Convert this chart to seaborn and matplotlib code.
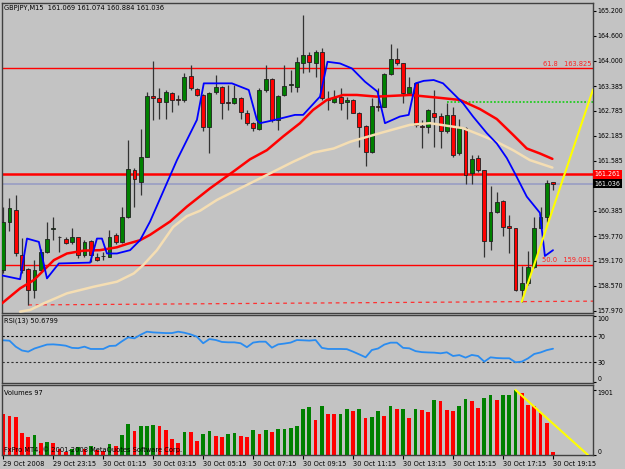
import numpy as np
import pandas as pd
import matplotlib
matplotlib.use('Agg')
import matplotlib.pyplot as plt
from matplotlib import font_manager
import seaborn as sns

# GBPJPY M15, 29 Oct 21:15 .. 30 Oct 19:15 (89 bars)
bars = list(range(89))
opens = [158.95, 160.12, 160.40, 159.31, 158.97, 158.47, 158.95, 159.39, 159.94, 159.74,
         159.70, 159.62, 159.74, 159.31, 159.65, 159.27, 159.29, 159.27, 159.80, 159.63,
         160.24, 161.35, 161.08, 161.68, 163.14, 163.10, 163.01, 163.21, 163.07, 163.05,
         163.63, 163.31, 163.17, 162.41, 163.23, 163.37, 162.99, 162.97, 163.09, 162.74,
         162.49, 162.34, 163.29, 163.55, 162.57, 163.17, 163.42, 163.37, 163.95, 164.13,
         163.95, 164.21, 163.07, 163.01, 163.13, 163.01, 163.05, 162.74, 162.42, 161.80,
         162.90, 162.89, 163.68, 164.03, 163.93, 163.21, 163.45, 162.43, 162.41, 162.74,
         162.66, 162.31, 162.69, 161.76, 162.37, 161.28, 161.64, 161.36, 159.64, 160.34,
         160.61, 160.01, 159.96, 158.47, 158.63, 159.03, 159.96, 160.24, 161.069]
highs = [160.48, 160.68, 160.76, 159.73, 158.99, 159.19, 159.47, 160.12, 160.24, 159.77,
         159.75, 159.96, 159.75, 159.67, 159.67, 159.35, 159.39, 159.92, 159.84, 160.48,
         162.08, 161.40, 162.34, 163.25, 164.00, 163.33, 163.29, 163.25, 163.17, 163.69,
         163.89, 163.33, 163.19, 163.25, 163.65, 163.39, 163.41, 163.41, 163.13, 162.81,
         162.53, 163.33, 163.89, 163.57, 163.17, 163.89, 163.77, 164.09, 165.10, 164.21,
         164.25, 164.29, 163.27, 163.29, 163.33, 163.13, 163.07, 162.77, 162.45, 163.09,
         163.33, 163.69, 164.41, 164.29, 163.95, 163.61, 163.49, 162.57, 162.82, 163.29,
         162.74, 162.97, 162.89, 162.58, 162.39, 161.72, 161.72, 161.36, 160.98, 160.84,
         160.64, 160.28, 159.97, 159.05, 159.41, 160.24, 160.48, 161.12, 161.074]
lows = [158.87, 159.88, 159.29, 158.87, 158.11, 158.27, 158.91, 159.35, 159.68, 159.39,
        159.58, 159.59, 159.23, 159.27, 159.15, 159.18, 159.19, 159.26, 159.59, 159.61,
        160.20, 160.48, 160.76, 161.67, 162.57, 162.58, 162.58, 162.77, 162.93, 163.01,
        163.29, 163.14, 162.29, 161.78, 163.19, 162.58, 162.81, 162.95, 162.58, 162.45,
        162.30, 162.33, 163.25, 162.53, 162.33, 163.14, 163.25, 163.25, 163.69, 163.73,
        163.61, 163.05, 162.81, 162.97, 162.81, 162.58, 162.73, 161.92, 161.46, 161.78,
        162.79, 162.87, 163.65, 163.89, 162.97, 163.17, 162.41, 161.88, 162.25, 161.92,
        161.88, 162.25, 161.68, 161.72, 161.02, 161.02, 161.32, 159.27, 159.43, 160.32,
        159.76, 159.35, 158.45, 158.19, 158.59, 158.99, 159.93, 160.12, 160.884]
closes = [160.12, 160.44, 159.35, 158.95, 158.47, 158.95, 159.39, 159.71, 159.97, 159.755,
          159.61, 159.74, 159.31, 159.62, 159.31, 159.19, 159.30, 159.75, 159.63, 160.24,
          161.39, 161.14, 161.67, 163.15, 163.09, 163.01, 163.23, 163.06, 163.06, 163.61,
          163.33, 163.17, 162.41, 163.21, 163.37, 162.97, 162.98, 163.09, 162.77, 162.49,
          162.37, 163.29, 163.55, 162.57, 163.14, 163.39, 163.44, 163.97, 164.13, 163.97,
          164.21, 163.09, 163.05, 163.10, 162.97, 163.06, 162.74, 162.41, 161.80, 162.90,
          162.89, 163.68, 164.03, 163.93, 163.21, 163.37, 162.45, 162.41, 162.81, 162.65,
          162.31, 162.69, 161.72, 162.37, 161.24, 161.62, 161.35, 159.64, 160.34, 160.60,
          159.98, 159.96, 158.47, 158.63, 159.03, 159.96, 160.24, 161.04, 161.036]
volumes = [1193, 1133, 1114, 641, 522, 591, 355, 394, 345, 177,
           79, 177, 227, 177, 256, 148, 108, 325, 256, 572,
           897, 700, 838, 857, 887, 838, 719, 473, 355, 670,
           660, 424, 601, 700, 542, 522, 601, 650, 542, 535,
           719, 611, 719, 670, 749, 769, 775, 838, 1331, 1390,
           1035, 1429, 1193, 1190, 1212, 1350, 1281, 1331, 1084, 1114,
           1281, 1143, 1439, 1350, 1355, 1094, 1331, 1311, 1252, 1607,
           1577, 1311, 1281, 1429, 1636, 1577, 1380, 1676, 1745, 1607,
           1754, 1764, 1901, 1823, 1469, 1429, 1242, 936, 97]
rsi = [63.5, 62.9, 53.8, 48.0, 46.2, 51.0, 54.0, 57.0, 57.3, 56.5,
       55.3, 52.0, 51.5, 53.8, 50.3, 50.3, 50.3, 54.8, 55.3, 62.0,
       68.0, 66.5, 72.0, 76.6, 75.5, 75.0, 74.5, 74.5, 76.6, 75.0,
       72.5, 69.0, 59.0, 65.4, 64.0, 61.0, 60.4, 60.4, 59.0, 53.0,
       60.0, 61.4, 61.4, 52.3, 57.3, 58.5, 60.0, 63.9, 63.5, 63.0,
       63.9, 52.0, 50.3, 50.3, 50.3, 50.0, 46.2, 42.0, 37.6, 48.7,
       51.0, 57.0, 59.9, 59.9, 52.0, 51.3, 47.0, 45.5, 45.0, 44.7,
       43.7, 45.2, 39.6, 41.0, 37.1, 41.2, 39.6, 31.0, 37.6, 36.5,
       36.1, 36.1, 30.0, 31.0, 36.0, 42.7, 45.0, 48.5, 50.68]

# moving averages (bar position, price)
blue_x = [-0.5, 2.7, 3.8, 5.7, 7.0, 8.9, 13.9, 15.0, 15.8, 16.6, 18.2, 20.3, 21.9, 23.5,
          27.8, 31.0, 32.1, 36.6, 39.3, 40.6, 41.1, 43.5, 46.7, 48.0, 50.7, 51.9, 53.9,
          55.8, 57.9, 59.9, 61.1, 63.5, 64.9, 66.0, 67.3, 68.9, 70.4, 72.0, 73.6, 75.2,
          77.4, 79.0, 80.6, 81.9, 83.8, 85.9, 86.7, 88.0]
blue_y = [158.83, 158.73, 159.71, 159.63, 158.75, 159.11, 159.13, 159.71, 159.71, 159.35,
          159.35, 159.43, 159.67, 160.12, 161.60, 162.57, 163.45, 163.45, 163.29, 162.57,
          162.49, 162.57, 162.69, 162.69, 163.13, 163.97, 163.93, 163.81, 163.49, 163.25,
          162.49, 162.65, 162.69, 163.45, 163.51, 163.53, 163.45, 163.21, 162.97, 162.65,
          162.25, 162.00, 161.65, 161.28, 160.72, 160.33, 159.29, 159.43]
red_x = [-0.2, 2.7, 4.9, 6.5, 8.1, 10.2, 12.9, 15.5, 18.2, 19.8, 21.9, 23.5, 26.7, 29.4,
         33.1, 36.8, 39.5, 42.2, 44.8, 47.5, 49.6, 51.8, 54.4, 56.6, 59.8, 65.1, 69.9,
         73.1, 76.3, 79.0, 81.6, 83.8, 85.9, 87.9]
red_y = [158.15, 158.51, 158.71, 158.95, 159.19, 159.35, 159.42, 159.43, 159.50, 159.58,
         159.67, 159.80, 160.12, 160.48, 160.92, 161.32, 161.62, 161.84, 162.17, 162.49,
         162.81, 163.05, 163.17, 163.17, 163.13, 163.17, 163.10, 163.05, 162.83, 162.59,
         162.21, 161.88, 161.76, 161.63]
wheat_x = [2.7, 4.3, 6.5, 10.2, 14.5, 18.2, 20.9, 22.4, 24.6, 27.2, 29.4, 31.5, 34.2,
           39.5, 42.7, 46.4, 49.6, 52.9, 55.5, 60.3, 65.1, 68.3, 73.6, 76.3, 79.0, 81.6,
           84.3, 87.9]
wheat_y = [157.95, 157.99, 158.15, 158.39, 158.55, 158.67, 158.87, 159.07, 159.43, 159.99,
           160.25, 160.38, 160.64, 161.04, 161.28, 161.56, 161.78, 161.88, 162.04, 162.25,
           162.45, 162.49, 162.37, 162.21, 162.04, 161.84, 161.60, 161.42]

price_ticks = [165.200, 164.600, 164.000, 163.385, 162.785, 162.185, 161.585,
               160.385, 159.770, 159.170, 158.570, 157.970]
time_labels = ['29 Oct 2008', '29 Oct 23:15', '30 Oct 01:15', '30 Oct 03:15',
               '30 Oct 05:15', '30 Oct 07:15', '30 Oct 09:15', '30 Oct 11:15',
               '30 Oct 13:15', '30 Oct 15:15', '30 Oct 17:15', '30 Oct 19:15']
fib_618 = 163.825
fib_500 = 159.081
hline_price = 161.261
bid_price = 161.036
green_level = 162.99
green_start = 71
trend_x = [83, 94.4]
trend_y = [158.19, 163.30]
vtrend_x = [82, 93.6]
vtrend_y = [1901, 0]

bg = '#c3c3c3'
frame = '#404040'

sns.set_theme(style='ticks', rc={'axes.facecolor': bg, 'figure.facecolor': bg,
                                 'axes.edgecolor': frame, 'axes.linewidth': 1.0})

# MT4 uses a narrow bitmap font; take a condensed face if one is installed
narrow = None
for f in font_manager.fontManager.ttflist:
    is_narrow = ('Narrow' in f.name or 'Condensed' in f.name
                 or f.stretch in ('condensed', 'semi-condensed'))
    if is_narrow and f.style == 'normal' and f.weight in (400, 'normal', 'regular'):
        if narrow is None or 'Liberation' in f.name:
            narrow = f
if narrow is not None:
    plt.rcParams['font.family'] = [narrow.name, 'DejaVu Sans']
    plt.rcParams['font.stretch'] = narrow.stretch
    fs = 5.3
else:
    plt.rcParams['font.family'] = ['Liberation Sans', 'DejaVu Sans']
    fs = 4.5
fs_axis = fs * 0.95


def px_box(l, t, r, b):
    W, H = 625, 469
    return [l / W, 1 - b / H, (r - l) / W, (b - t) / H]


df = pd.DataFrame({'bar': bars, 'open': opens, 'high': highs, 'low': lows,
                   'close': closes, 'volume': volumes, 'rsi': rsi})
df['up'] = df['close'] >= df['open']
df['vdir'] = np.where(df['volume'].diff() > 0, 'up', 'down')

fig = plt.figure(figsize=(6.25, 4.69), dpi=100)
ax = fig.add_axes(px_box(2, 3, 593, 313))
ax_rsi = fig.add_axes(px_box(2, 315, 593, 383))
ax_vol = fig.add_axes(px_box(2, 385, 593, 455))
xlim = (-0.2, 94.4)

# --- price panel
ax.axhline(fib_618, color='red', lw=1, zorder=2)
ax.axhline(hline_price, color='red', lw=1.8, zorder=2)
ax.axhline(bid_price, color='#9ea3c4', lw=1.4, zorder=2)
ax.axhline(fib_500, color='red', lw=1, zorder=2)
# dashed support from bar 4 low through bar 83 low
slope = (df['low'][83] - df['low'][4]) / (83 - 4)
ax.plot([4, xlim[1]], [df['low'][4], df['low'][4] + slope * (xlim[1] - 4)],
        color='#ff3030', lw=0.9, ls=(0, (3, 3)), zorder=2)
ax.plot([green_start, xlim[1]], [green_level, green_level], color='#22cc22',
        lw=1.3, ls=(0, (1, 1)), zorder=2)

body_bottom = df[['open', 'close']].min(axis=1)
body_h = (df['close'] - df['open']).abs().clip(lower=0.006)
ax.vlines(df['bar'], df['low'], df['high'], color='#333333', lw=0.9, zorder=3)
ax.bar(df['bar'], body_h, bottom=body_bottom, width=0.62,
       color=np.where(df['up'], '#008000', '#ff0000'), edgecolor='#202020', lw=0.6, zorder=4)

sns.lineplot(x=wheat_x, y=wheat_y, color='#f5deb3', lw=1.8, ax=ax, zorder=5)
sns.lineplot(x=red_x, y=red_y, color='#ff0000', lw=1.8, ax=ax, zorder=5)
sns.lineplot(x=blue_x, y=blue_y, color='#0000ff', lw=1.3, ax=ax, zorder=6)
ax.plot(trend_x, trend_y, color='#ffff00', lw=1.5, zorder=7)

ax.set_xlim(*xlim)
ax.set_ylim(157.916, 165.386)
ax.set_yticks(price_ticks)
ax.set_yticklabels([f'{p:.3f}' for p in price_ticks])
ax.text(0.004, 0.995, 'GBPJPY,M15  161.069 161.074 160.884 161.036',
        transform=ax.transAxes, ha='left', va='top', fontsize=fs, color='black')
ax.text(0.997, fib_618 + 0.03, '61.8   163.825', transform=ax.get_yaxis_transform(),
        ha='right', va='bottom', fontsize=fs, color='#ff2020')
ax.text(0.997, fib_500 + 0.03, '50.0   159.081', transform=ax.get_yaxis_transform(),
        ha='right', va='bottom', fontsize=fs, color='#ff2020')
ax.text(1.003, hline_price, f'{hline_price:.3f}', transform=ax.get_yaxis_transform(),
        ha='left', va='center', fontsize=fs_axis, color='white', clip_on=False,
        bbox=dict(boxstyle='square,pad=0.2', fc='#ff0000', ec='none'))
ax.text(1.003, bid_price, f'{bid_price:.3f}', transform=ax.get_yaxis_transform(),
        ha='left', va='center', fontsize=fs_axis, color='white', clip_on=False,
        bbox=dict(boxstyle='square,pad=0.2', fc='#000000', ec='none'))

# --- RSI panel
ax_rsi.axhline(70, color='black', lw=0.8, ls=(0, (2, 2)))
ax_rsi.axhline(30, color='#303030', lw=0.8, ls=(0, (2, 2)))
sns.lineplot(data=df, x='bar', y='rsi', color='#2a8cf0', lw=1.3, ax=ax_rsi)
ax_rsi.set_xlim(*xlim)
ax_rsi.set_ylim(-1.5, 102)
ax_rsi.set_yticks([0, 30, 70, 100])
ax_rsi.text(0.004, 0.96, 'RSI(13) 50.6799', transform=ax_rsi.transAxes,
            ha='left', va='top', fontsize=fs, color='black')

# --- volume panel
sns.barplot(data=df, x='bar', y='volume', hue='vdir',
            palette={'up': '#008000', 'down': '#ff0000'}, native_scale=True,
            dodge=False, width=0.6, errorbar=None, legend=False, saturation=1,
            linewidth=0, ax=ax_vol)
ax_vol.plot(vtrend_x, vtrend_y, color='#ffff00', lw=1.5, zorder=5)
ax_vol.set_xlim(*xlim)
ax_vol.set_ylim(0, 2047)
ax_vol.set_yticks([0, 1901])
ax_vol.set_xticks(bars[::8])
ax_vol.set_xticklabels(time_labels)
for lab in ax_vol.get_xticklabels():
    lab.set_ha('left')
ax_vol.text(0.004, 0.93, 'Volumes 97', transform=ax_vol.transAxes,
            ha='left', va='top', fontsize=fs, color='black')
ax_vol.text(0.004, 0.03, 'FxPro MT4, \u00a9 2001-2008 MetaQuotes Software Corp.',
            transform=ax_vol.transAxes, ha='left', va='bottom', fontsize=fs,
            color='black', zorder=6)

for a in (ax, ax_rsi, ax_vol):
    a.set_xlabel('')
    a.set_ylabel('')
    a.yaxis.tick_right()
    a.tick_params(axis='y', right=True, left=False, labelright=True, labelleft=False,
                  length=2.5, width=0.8, pad=0.8, labelsize=fs_axis, colors='black')
    for s in a.spines.values():
        s.set_visible(True)
        s.set_color(frame)
        s.set_linewidth(1.0)
for a in (ax, ax_rsi):
    a.tick_params(axis='x', bottom=False, labelbottom=False)
ax_vol.tick_params(axis='x', bottom=True, length=3, width=0.8, pad=1.5,
                   labelsize=fs, colors='black')

ax_rsi.get_yticklabels()[0].set_va('bottom')
ax_rsi.get_yticklabels()[-1].set_va('top')
ax_vol.get_yticklabels()[0].set_va('bottom')
ax_vol.get_yticklabels()[-1].set_va('top')

fig.savefig('out.png', dpi=100, facecolor=bg)
